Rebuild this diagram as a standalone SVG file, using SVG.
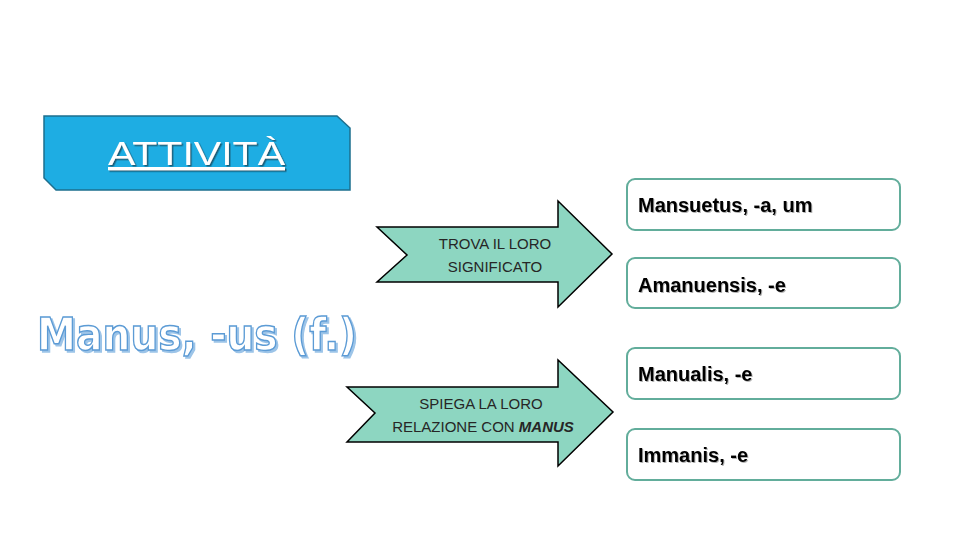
<svg xmlns="http://www.w3.org/2000/svg" width="960" height="540" viewBox="0 0 960 540">
<defs>
<style>
.arrow{fill:#8dd6c1;stroke:#000;stroke-width:1.5;stroke-linejoin:miter}
.atxt{font-family:"Liberation Sans",Arial,sans-serif;font-size:15px;fill:#262626;text-anchor:middle}
.box{fill:#fff;stroke:#62ad9b;stroke-width:2}
.btxt{font-family:"Liberation Sans",Arial,sans-serif;font-size:20px;font-weight:bold;fill:#000;filter:url(#tshadow)}
</style>
<filter id="tshadow" x="-5%" y="-20%" width="110%" height="150%">
<feDropShadow dx="1" dy="1" stdDeviation="0.6" flood-color="#000" flood-opacity="0.3"/>
</filter>
<filter id="wshadow" x="-5%" y="-20%" width="115%" height="160%">
<feDropShadow dx="1.5" dy="1.5" stdDeviation="0.5" flood-color="#1a4a5e" flood-opacity="0.8"/>
</filter>
<filter id="bshadow" x="-5%" y="-20%" width="110%" height="150%">
<feDropShadow dx="2" dy="2" stdDeviation="0" flood-color="#9cc4e8" flood-opacity="1"/>
</filter>
</defs>
<rect width="960" height="540" fill="#fff"/>

<g id="attivita">
<polygon points="44,116 337,116 350,128 350,190 56,190 44,178" fill="#1eade3" stroke="#1d6f8e" stroke-width="1.5"/>
<text x="108" y="165" font-family="'Liberation Sans',Arial,sans-serif" font-size="33" fill="#fff" text-decoration="underline" textLength="177" lengthAdjust="spacingAndGlyphs" filter="url(#wshadow)">ATTIVITÀ</text>
</g>

<g id="manus">
<text x="37" y="350" font-family="'DejaVu Sans',Verdana,sans-serif" font-size="45" font-weight="bold" fill="#fff" stroke="#5b9bd5" stroke-width="1.5" textLength="320" lengthAdjust="spacingAndGlyphs" filter="url(#bshadow)">Manus, -us (f.)</text>
</g>

<g id="connectors">
<g id="arrow-trova">
<polygon class="arrow" points="377,227 558,227 558,201 612,254 558,307 558,282 377,282 407,255"/>
<text class="atxt" x="495" y="249">TROVA IL LORO</text>
<text class="atxt" x="495" y="272">SIGNIFICATO</text>
</g>
<g id="arrow-spiega">
<polygon class="arrow" points="347,387 558,387 558,360 613,412 558,466 558,442 347,442 375,413"/>
<text class="atxt" x="481" y="409">SPIEGA LA LORO</text>
<text class="atxt" x="483" y="432">RELAZIONE CON <tspan font-weight="bold" font-style="italic">MANUS</tspan></text>
</g>
</g>

<g id="box1">
<rect class="box" x="627" y="179" width="273" height="51" rx="8"/>
<text class="btxt" x="638" y="212">Mansuetus, -a, um</text>
</g>
<g id="box2">
<rect class="box" x="627" y="258" width="273" height="50" rx="8"/>
<text class="btxt" x="638" y="292">Amanuensis, -e</text>
</g>
<g id="box3">
<rect class="box" x="627" y="348" width="273" height="51" rx="8"/>
<text class="btxt" x="638" y="381">Manualis, -e</text>
</g>
<g id="box4">
<rect class="box" x="627" y="429" width="273" height="51" rx="8"/>
<text class="btxt" x="638" y="462">Immanis, -e</text>
</g>
</svg>
